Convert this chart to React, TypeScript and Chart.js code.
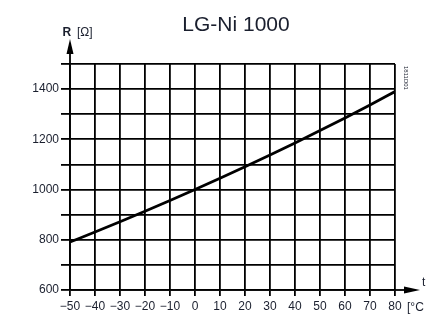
import React, { useEffect, useRef } from "react";
import { Chart, registerables } from "chart.js";

Chart.register(...registerables);

const temperatures = [-50, -40, -30, -20, -10, 0, 10, 20, 30, 40, 50, 60, 70, 80];
const resistances = [790.9, 830.8, 871.7, 913.5, 956.2, 1000, 1044.8, 1090.7, 1137.6, 1185.7, 1235.0, 1285.4, 1337.1, 1390.1];
const yLabelValues = [600, 800, 1000, 1200, 1400];
const titleText = "LG-Ni 1000";
const yAxisSymbol = "R";
const yAxisUnit = "[Ω]";
const xAxisSymbol = "t";
const xAxisUnit = "[°C";
const docCode = "1811D01";

const FONT = "'Liberation Sans', Arial, sans-serif";

const decorPlugin = {
  id: "decor",
  afterDraw(chart: any) {
    const { ctx, chartArea } = chart;
    const { left, right, top, bottom } = chartArea;
    ctx.save();
    ctx.strokeStyle = "#000";
    ctx.fillStyle = "#000";
    ctx.lineWidth = 1.8;
    // y arrow
    ctx.beginPath();
    ctx.moveTo(left, top);
    ctx.lineTo(left, 46);
    ctx.stroke();
    ctx.beginPath();
    ctx.moveTo(left, 39);
    ctx.lineTo(left - 3.5, 54);
    ctx.lineTo(left + 3.5, 54);
    ctx.closePath();
    ctx.fill();
    // x arrow
    ctx.beginPath();
    ctx.moveTo(right, bottom);
    ctx.lineTo(410, bottom);
    ctx.stroke();
    ctx.beginPath();
    ctx.moveTo(420, bottom);
    ctx.lineTo(404, bottom - 3.5);
    ctx.lineTo(404, bottom + 3.5);
    ctx.closePath();
    ctx.fill();

    ctx.fillStyle = "#1a1f2e";
    ctx.textBaseline = "alphabetic";
    // title
    ctx.font = `21px ${FONT}`;
    ctx.textAlign = "center";
    ctx.fillText(titleText, 236, 31);
    // y axis label
    ctx.textAlign = "left";
    ctx.font = `bold 12px ${FONT}`;
    ctx.fillText(yAxisSymbol, 62.5, 36);
    ctx.font = `12px ${FONT}`;
    ctx.fillText(yAxisUnit, 77, 36);
    // x axis label
    ctx.fillText(xAxisSymbol, 422, 286);
    ctx.fillText(xAxisUnit, 407, 311);
    // vertical doc code
    ctx.save();
    ctx.translate(404, 66);
    ctx.rotate(Math.PI / 2);
    ctx.font = `6px ${FONT}`;
    ctx.fillText(docCode, 0, 0);
    ctx.restore();
    ctx.restore();
  },
};

export default function App() {
  const ref = useRef<HTMLCanvasElement | null>(null);
  useEffect(() => {
    if (!ref.current) return;
    const chart = new Chart(ref.current, {
      type: "line",
      data: {
        datasets: [
          {
            data: temperatures.map((t, i) => ({ x: t, y: resistances[i] })),
            borderColor: "#000",
            borderWidth: 2.8,
            pointRadius: 0,
            tension: 0.4,
            cubicInterpolationMode: "monotone",
            fill: false,
          },
        ],
      },
      options: {
        animation: false,
        responsive: false,
        layout: { padding: { left: 0, right: 32, top: 64, bottom: 0 } },
        plugins: { legend: { display: false }, tooltip: { enabled: false }, title: { display: false } },
        scales: {
          x: {
            type: "linear",
            min: -50,
            max: 80,
            ticks: {
              stepSize: 10,
              color: "#1a1f2e",
              font: { family: FONT, size: 12 },
              padding: 3,
              maxRotation: 0,
              autoSkip: false,
              callback: (v: any) => (v < 0 ? "\u2212" + Math.abs(v) : String(v)),
            },
            grid: { color: "#000", lineWidth: 1.8, tickLength: 6, drawTicks: true },
            border: { display: true, color: "#000", width: 1.8 },
            afterFit: (scale: any) => {
              scale.height = 28;
            },
          },
          y: {
            min: 600,
            max: 1500,
            ticks: {
              stepSize: 100,
              color: "#1a1f2e",
              font: { family: FONT, size: 12 },
              padding: 2,
              autoSkip: false,
              callback: (v: any) => (yLabelValues.includes(v) ? String(v) : ""),
            },
            grid: { color: "#000", lineWidth: 1.8, tickLength: 9, drawTicks: true },
            border: { display: true, color: "#000", width: 1.8 },
            afterFit: (scale: any) => {
              scale.width = 70;
            },
          },
        },
      },
      plugins: [decorPlugin],
    } as any);
    return () => chart.destroy();
  }, []);
  return (
    <div style={{ position: "absolute", left: 0, top: 0, width: 427, height: 318, background: "#fff" }}>
      <canvas ref={ref} width={427} height={318} />
    </div>
  );
}
